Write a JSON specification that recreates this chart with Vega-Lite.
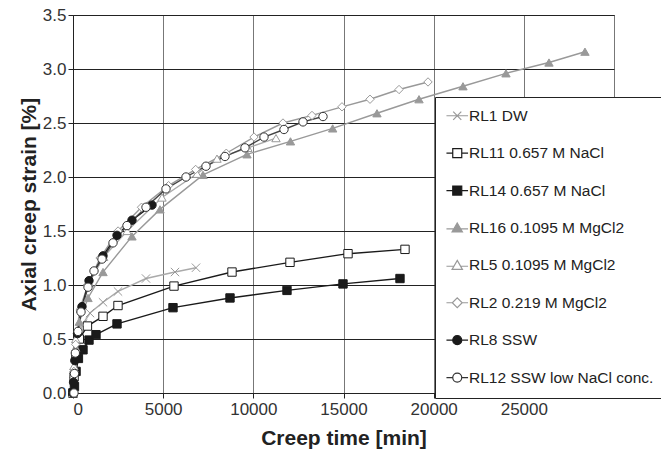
{
  "$schema": "https://vega.github.io/schema/vega-lite/v6.json",
  "width": 541,
  "height": 378,
  "autosize": {"type": "none"},
  "padding": {"left": 73, "top": 15, "right": 47, "bottom": 64},
  "background": "white",
  "config": {
    "font": "Liberation Sans, Arial, sans-serif",
    "view": {"stroke": "#222", "strokeWidth": 1},
    "axis": {
      "labelFont": "Liberation Sans, Arial, sans-serif",
      "labelFontSize": 17,
      "labelColor": "#333",
      "titleFont": "Liberation Sans, Arial, sans-serif",
      "titleFontSize": 21,
      "titleFontWeight": "bold",
      "titleColor": "#222",
      "domainColor": "#222",
      "tickColor": "#222",
      "tickSize": 5,
      "gridOpacity": 1
    },
    "legend": {
      "title": null,
      "orient": "none",
      "legendX": 362,
      "legendY": 82,
      "fillColor": "white",
      "strokeColor": "#222",
      "padding": 11,
      "symbolOffset": 3.5,
      "symbolSize": 81,
      "symbolStrokeWidth": 1.2,
      "symbolOpacity": 1,
      "labelOffset": 4,
      "labelFontSize": 15.5,
      "labelLimit": 400,
      "labelColor": "#222",
      "labelFont": "Liberation Sans, Arial, sans-serif",
      "rowPadding": 20.4
    }
  },
  "data": {
    "values": [
      {"series": "RL1 DW", "t": 0, "strain": 0},
      {"series": "RL1 DW", "t": 40, "strain": 0.18},
      {"series": "RL1 DW", "t": 120, "strain": 0.36},
      {"series": "RL1 DW", "t": 250, "strain": 0.52},
      {"series": "RL1 DW", "t": 550, "strain": 0.64},
      {"series": "RL1 DW", "t": 943, "strain": 0.74},
      {"series": "RL1 DW", "t": 1664, "strain": 0.84},
      {"series": "RL1 DW", "t": 2495, "strain": 0.94},
      {"series": "RL1 DW", "t": 4048, "strain": 1.06},
      {"series": "RL1 DW", "t": 5656, "strain": 1.12},
      {"series": "RL1 DW", "t": 6820, "strain": 1.16},

      {"series": "RL11 0.657 M NaCl", "t": 0, "strain": 0},
      {"series": "RL11 0.657 M NaCl", "t": 60, "strain": 0.15},
      {"series": "RL11 0.657 M NaCl", "t": 160, "strain": 0.34},
      {"series": "RL11 0.657 M NaCl", "t": 350, "strain": 0.5},
      {"series": "RL11 0.657 M NaCl", "t": 800, "strain": 0.62},
      {"series": "RL11 0.657 M NaCl", "t": 1664, "strain": 0.71},
      {"series": "RL11 0.657 M NaCl", "t": 2495, "strain": 0.81},
      {"series": "RL11 0.657 M NaCl", "t": 5600, "strain": 0.99},
      {"series": "RL11 0.657 M NaCl", "t": 8817, "strain": 1.12},
      {"series": "RL11 0.657 M NaCl", "t": 12033, "strain": 1.21},
      {"series": "RL11 0.657 M NaCl", "t": 15250, "strain": 1.29},
      {"series": "RL11 0.657 M NaCl", "t": 18410, "strain": 1.33},

      {"series": "RL14 0.657 M NaCl", "t": 0, "strain": 0},
      {"series": "RL14 0.657 M NaCl", "t": 80, "strain": 0.06},
      {"series": "RL14 0.657 M NaCl", "t": 170, "strain": 0.2},
      {"series": "RL14 0.657 M NaCl", "t": 300, "strain": 0.32},
      {"series": "RL14 0.657 M NaCl", "t": 554, "strain": 0.4},
      {"series": "RL14 0.657 M NaCl", "t": 887, "strain": 0.49},
      {"series": "RL14 0.657 M NaCl", "t": 1275, "strain": 0.54},
      {"series": "RL14 0.657 M NaCl", "t": 2440, "strain": 0.64},
      {"series": "RL14 0.657 M NaCl", "t": 5545, "strain": 0.79},
      {"series": "RL14 0.657 M NaCl", "t": 8706, "strain": 0.88},
      {"series": "RL14 0.657 M NaCl", "t": 11866, "strain": 0.95},
      {"series": "RL14 0.657 M NaCl", "t": 14972, "strain": 1.01},
      {"series": "RL14 0.657 M NaCl", "t": 18132, "strain": 1.06},

      {"series": "RL16 0.1095 M MgCl2", "t": 0, "strain": 0},
      {"series": "RL16 0.1095 M MgCl2", "t": 50, "strain": 0.2},
      {"series": "RL16 0.1095 M MgCl2", "t": 150, "strain": 0.42},
      {"series": "RL16 0.1095 M MgCl2", "t": 350, "strain": 0.66},
      {"series": "RL16 0.1095 M MgCl2", "t": 832, "strain": 0.88},
      {"series": "RL16 0.1095 M MgCl2", "t": 1664, "strain": 1.12},
      {"series": "RL16 0.1095 M MgCl2", "t": 3271, "strain": 1.45},
      {"series": "RL16 0.1095 M MgCl2", "t": 4824, "strain": 1.7},
      {"series": "RL16 0.1095 M MgCl2", "t": 7210, "strain": 2.02},
      {"series": "RL16 0.1095 M MgCl2", "t": 9648, "strain": 2.21},
      {"series": "RL16 0.1095 M MgCl2", "t": 12060, "strain": 2.33},
      {"series": "RL16 0.1095 M MgCl2", "t": 14400, "strain": 2.45},
      {"series": "RL16 0.1095 M MgCl2", "t": 16857, "strain": 2.59},
      {"series": "RL16 0.1095 M MgCl2", "t": 19187, "strain": 2.72},
      {"series": "RL16 0.1095 M MgCl2", "t": 21626, "strain": 2.84},
      {"series": "RL16 0.1095 M MgCl2", "t": 24010, "strain": 2.96},
      {"series": "RL16 0.1095 M MgCl2", "t": 26395, "strain": 3.06},
      {"series": "RL16 0.1095 M MgCl2", "t": 28390, "strain": 3.16},

      {"series": "RL5 0.1095 M MgCl2", "t": 0, "strain": 0},
      {"series": "RL5 0.1095 M MgCl2", "t": 50, "strain": 0.25},
      {"series": "RL5 0.1095 M MgCl2", "t": 150, "strain": 0.5},
      {"series": "RL5 0.1095 M MgCl2", "t": 400, "strain": 0.8},
      {"series": "RL5 0.1095 M MgCl2", "t": 900, "strain": 1.02},
      {"series": "RL5 0.1095 M MgCl2", "t": 1700, "strain": 1.26},
      {"series": "RL5 0.1095 M MgCl2", "t": 3000, "strain": 1.5},
      {"series": "RL5 0.1095 M MgCl2", "t": 4935, "strain": 1.81},
      {"series": "RL5 0.1095 M MgCl2", "t": 6876, "strain": 2.03},
      {"series": "RL5 0.1095 M MgCl2", "t": 7985, "strain": 2.17},
      {"series": "RL5 0.1095 M MgCl2", "t": 9700, "strain": 2.27},
      {"series": "RL5 0.1095 M MgCl2", "t": 11257, "strain": 2.36},

      {"series": "RL2 0.219 M MgCl2", "t": 0, "strain": 0},
      {"series": "RL2 0.219 M MgCl2", "t": 50, "strain": 0.2},
      {"series": "RL2 0.219 M MgCl2", "t": 150, "strain": 0.45},
      {"series": "RL2 0.219 M MgCl2", "t": 400, "strain": 0.75},
      {"series": "RL2 0.219 M MgCl2", "t": 800, "strain": 1.0},
      {"series": "RL2 0.219 M MgCl2", "t": 1500, "strain": 1.25},
      {"series": "RL2 0.219 M MgCl2", "t": 2500, "strain": 1.5},
      {"series": "RL2 0.219 M MgCl2", "t": 3800, "strain": 1.72},
      {"series": "RL2 0.219 M MgCl2", "t": 5300, "strain": 1.92},
      {"series": "RL2 0.219 M MgCl2", "t": 6800, "strain": 2.07},
      {"series": "RL2 0.219 M MgCl2", "t": 8500, "strain": 2.22},
      {"series": "RL2 0.219 M MgCl2", "t": 10037, "strain": 2.37},
      {"series": "RL2 0.219 M MgCl2", "t": 11645, "strain": 2.5},
      {"series": "RL2 0.219 M MgCl2", "t": 13253, "strain": 2.57},
      {"series": "RL2 0.219 M MgCl2", "t": 14916, "strain": 2.65},
      {"series": "RL2 0.219 M MgCl2", "t": 16470, "strain": 2.72},
      {"series": "RL2 0.219 M MgCl2", "t": 18080, "strain": 2.81},
      {"series": "RL2 0.219 M MgCl2", "t": 19687, "strain": 2.88},

      {"series": "RL8 SSW", "t": 0, "strain": 0},
      {"series": "RL8 SSW", "t": 30, "strain": 0.1},
      {"series": "RL8 SSW", "t": 100, "strain": 0.3},
      {"series": "RL8 SSW", "t": 250, "strain": 0.55},
      {"series": "RL8 SSW", "t": 499, "strain": 0.8},
      {"series": "RL8 SSW", "t": 887, "strain": 1.04},
      {"series": "RL8 SSW", "t": 1664, "strain": 1.27},
      {"series": "RL8 SSW", "t": 2440, "strain": 1.46},
      {"series": "RL8 SSW", "t": 3271, "strain": 1.6},
      {"series": "RL8 SSW", "t": 4381, "strain": 1.74},

      {"series": "RL12 SSW low NaCl conc.", "t": 55, "strain": 0},
      {"series": "RL12 SSW low NaCl conc.", "t": 80, "strain": 0.18},
      {"series": "RL12 SSW low NaCl conc.", "t": 130, "strain": 0.37},
      {"series": "RL12 SSW low NaCl conc.", "t": 277, "strain": 0.57},
      {"series": "RL12 SSW low NaCl conc.", "t": 444, "strain": 0.75},
      {"series": "RL12 SSW low NaCl conc.", "t": 832, "strain": 0.98},
      {"series": "RL12 SSW low NaCl conc.", "t": 1164, "strain": 1.13},
      {"series": "RL12 SSW low NaCl conc.", "t": 1608, "strain": 1.24},
      {"series": "RL12 SSW low NaCl conc.", "t": 2218, "strain": 1.39},
      {"series": "RL12 SSW low NaCl conc.", "t": 2994, "strain": 1.55},
      {"series": "RL12 SSW low NaCl conc.", "t": 4048, "strain": 1.72},
      {"series": "RL12 SSW low NaCl conc.", "t": 5157, "strain": 1.89},
      {"series": "RL12 SSW low NaCl conc.", "t": 6266, "strain": 2.0},
      {"series": "RL12 SSW low NaCl conc.", "t": 7375, "strain": 2.1},
      {"series": "RL12 SSW low NaCl conc.", "t": 8428, "strain": 2.19},
      {"series": "RL12 SSW low NaCl conc.", "t": 9537, "strain": 2.27},
      {"series": "RL12 SSW low NaCl conc.", "t": 10591, "strain": 2.37},
      {"series": "RL12 SSW low NaCl conc.", "t": 11700, "strain": 2.44},
      {"series": "RL12 SSW low NaCl conc.", "t": 12754, "strain": 2.51},
      {"series": "RL12 SSW low NaCl conc.", "t": 13863, "strain": 2.56}
    ]
  },
  "encoding": {
    "x": {
      "field": "t",
      "type": "quantitative",
      "scale": {"domain": [0, 30000], "nice": false},
      "axis": {
        "title": "Creep time [min]",
        "values": [0, 5000, 10000, 15000, 20000, 25000, 30000],
        "labelExpr": "datum.value == 30000 ? '' : datum.value",
        "format": "d",
        "gridColor": "#777",
        "labelPadding": 3,
        "titleY": 45,
        "titleBaseline": "middle"
      }
    },
    "y": {
      "field": "strain",
      "type": "quantitative",
      "scale": {"domain": [0, 3.5], "nice": false},
      "axis": {
        "title": "Axial creep strain [%]",
        "values": [0, 0.5, 1, 1.5, 2, 2.5, 3, 3.5],
        "format": ".1f",
        "gridColor": "#222",
        "labelPadding": 2,
        "titleX": -44,
        "titleBaseline": "middle"
      }
    }
  },
  "resolve": {"scale": {"shape": "independent", "fill": "independent", "stroke": "independent"}},
  "layer": [
    {
      "mark": {"type": "line", "strokeWidth": 1.4},
      "encoding": {
        "color": {
          "field": "series",
          "type": "nominal",
          "scale": {
            "domain": ["RL1 DW", "RL11 0.657 M NaCl", "RL12 SSW low NaCl conc.", "RL14 0.657 M NaCl", "RL16 0.1095 M MgCl2", "RL2 0.219 M MgCl2", "RL5 0.1095 M MgCl2", "RL8 SSW"],
            "range": ["#aaaaaa", "#1a1a1a", "#444444", "#1a1a1a", "#999999", "#999999", "#aaaaaa", "#1a1a1a"]
          },
          "legend": null
        },
        "order": {"field": "t", "type": "quantitative"}
      }
    },
    {
      "mark": {"type": "point", "filled": true, "size": 70, "strokeWidth": 1, "opacity": 1},
      "encoding": {
        "shape": {
          "field": "series",
          "type": "nominal",
          "scale": {
            "domain": ["RL1 DW", "RL11 0.657 M NaCl", "RL12 SSW low NaCl conc.", "RL14 0.657 M NaCl", "RL16 0.1095 M MgCl2", "RL2 0.219 M MgCl2", "RL5 0.1095 M MgCl2", "RL8 SSW"],
            "range": ["M-1,-1L1,1M-1,1L1,-1", "square", "circle", "square", "triangle-up", "diamond", "triangle-up", "circle"]
          },
          "legend": null
        },
        "fill": {
          "field": "series",
          "type": "nominal",
          "scale": {
            "domain": ["RL1 DW", "RL11 0.657 M NaCl", "RL12 SSW low NaCl conc.", "RL14 0.657 M NaCl", "RL16 0.1095 M MgCl2", "RL2 0.219 M MgCl2", "RL5 0.1095 M MgCl2", "RL8 SSW"],
            "range": ["#999999", "#ffffff", "#ffffff", "#1a1a1a", "#999999", "#ffffff", "#ffffff", "#1a1a1a"]
          },
          "legend": null
        },
        "stroke": {
          "field": "series",
          "type": "nominal",
          "scale": {
            "domain": ["RL1 DW", "RL11 0.657 M NaCl", "RL12 SSW low NaCl conc.", "RL14 0.657 M NaCl", "RL16 0.1095 M MgCl2", "RL2 0.219 M MgCl2", "RL5 0.1095 M MgCl2", "RL8 SSW"],
            "range": ["#999999", "#1a1a1a", "#333333", "#1a1a1a", "#999999", "#999999", "#999999", "#1a1a1a"]
          },
          "legend": null
        }
      }
    },
    {
      "mark": {"type": "point", "filled": true, "size": 81, "strokeWidth": 1.2, "opacity": 0},
      "encoding": {
        "shape": {
          "field": "series",
          "type": "nominal",
          "scale": {
            "domain": ["RL1 DW", "RL11 0.657 M NaCl", "RL14 0.657 M NaCl", "RL16 0.1095 M MgCl2", "RL5 0.1095 M MgCl2", "RL2 0.219 M MgCl2", "RL8 SSW", "RL12 SSW low NaCl conc."],
            "range": [
              "M-2.4,0L2.4,0M-0.9,-0.9L0.9,0.9M-0.9,0.9L0.9,-0.9",
              "M-2.4,0L-1,0M1,0L2.4,0M-1,-1L1,-1L1,1L-1,1Z",
              "M-2.4,0L-1,0M1,0L2.4,0M-1,-1L1,-1L1,1L-1,1Z",
              "M-2.4,0.2L-0.75,0.2M0.75,0.2L2.4,0.2M0,-1.1L1.15,0.9L-1.15,0.9Z",
              "M-2.4,0.2L-0.75,0.2M0.75,0.2L2.4,0.2M0,-1.1L1.15,0.9L-1.15,0.9Z",
              "M-2.4,0L-1.1,0M1.1,0L2.4,0M0,-1.1L1.1,0L0,1.1L-1.1,0Z",
              "M-2.4,0L-1,0M1,0L2.4,0M1,0A1,1,0,1,1,-1,0A1,1,0,1,1,1,0Z",
              "M-2.4,0L-1,0M1,0L2.4,0M1,0A1,1,0,1,1,-1,0A1,1,0,1,1,1,0Z"
            ]
          },
          "legend": {"title": null, "orient": "none", "legendX": 362, "legendY": 82, "symbolOffset": 3.5, "labelOffset": 4, "rowPadding": 20.4, "symbolOpacity": 1}
        },
        "fill": {
          "field": "series",
          "type": "nominal",
          "scale": {
            "domain": ["RL1 DW", "RL11 0.657 M NaCl", "RL14 0.657 M NaCl", "RL16 0.1095 M MgCl2", "RL5 0.1095 M MgCl2", "RL2 0.219 M MgCl2", "RL8 SSW", "RL12 SSW low NaCl conc."],
            "range": ["#999999", "#ffffff", "#1a1a1a", "#999999", "#ffffff", "#ffffff", "#1a1a1a", "#ffffff"]
          },
          "legend": {"title": null, "orient": "none", "legendX": 362, "legendY": 82, "symbolOffset": 3.5, "labelOffset": 4, "rowPadding": 20.4, "symbolOpacity": 1}
        },
        "stroke": {
          "field": "series",
          "type": "nominal",
          "scale": {
            "domain": ["RL1 DW", "RL11 0.657 M NaCl", "RL14 0.657 M NaCl", "RL16 0.1095 M MgCl2", "RL5 0.1095 M MgCl2", "RL2 0.219 M MgCl2", "RL8 SSW", "RL12 SSW low NaCl conc."],
            "range": ["#999999", "#1a1a1a", "#1a1a1a", "#999999", "#999999", "#999999", "#1a1a1a", "#333333"]
          },
          "legend": {"title": null, "orient": "none", "legendX": 362, "legendY": 82, "symbolOffset": 3.5, "labelOffset": 4, "rowPadding": 20.4, "symbolOpacity": 1}
        }
      }
    }
  ]
}
